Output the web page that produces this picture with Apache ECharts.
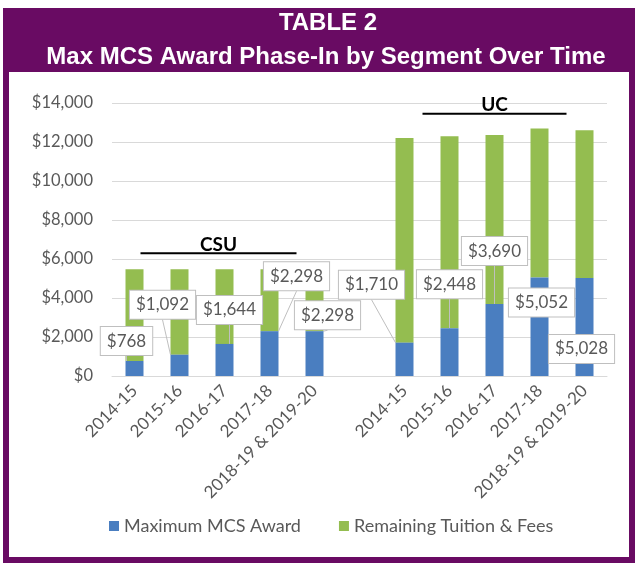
<!DOCTYPE html>
<html>
<head>
<meta charset="utf-8">
<script src="https://cdn.jsdelivr.net/npm/echarts@6/dist/echarts.min.js"></script>
<style>
  html, body { margin: 0; padding: 0; background: #ffffff; }
  #chart { width: 638px; height: 563px; }
</style>
</head>
<body>
<div id="chart"></div>
<script>
// ---- Data ----
var categories = ['2014-15', '2015-16', '2016-17', '2017-18', '2018-19 & 2019-20', '',
                  '2014-15', '2015-16', '2016-17', '2017-18', '2018-19 & 2019-20'];
var maxAward   = [768, 1092, 1644, 2298, 2298, null, 1710, 2448, 3690, 5052, 5028];
var remaining  = [4704, 4380, 3828, 3174, 3174, null, 10490, 9846, 8670, 7638, 7572];
var seriesNames = ['Maximum MCS Award', 'Remaining Tuition & Fees'];
var yTicks = [0, 2000, 4000, 6000, 8000, 10000, 12000, 14000];
var segmentNames = ['CSU', 'UC'];
var segmentFirst = [0, 6];
var segmentLast  = [4, 10];
var segmentLevel = [6300, 13450];
var titleLines = ['TABLE 2', 'Max MCS Award Phase-In by Segment Over Time'];

// ---- Styling (label offsets relative to the bar top) ----
var labelDx = [-8, -17, 5, 27, 13, 0, -33, 0, 0, 2, -3];
var labelDy = [-20, -50, -34, -55, -16, 0, -58, -44, -53, 25, 71];
var segInsetL = [6, 18];
var segInsetR = [-18, -18];

var purple = '#690b63';
var blue = '#4a7ec0';
var green = '#94bd50';
var gray = '#595959';
var font = 'Lato, "Open Sans", sans-serif';

function money(v) {
  return '$' + Number(v).toLocaleString('en-US');
}

var chart = echarts.init(document.getElementById('chart'));

var option = {
  animation: false,
  backgroundColor: '#ffffff',
  textStyle: { fontFamily: font },
  grid: { left: 112, right: 31, top: 103, bottom: 187, containLabel: false },
  legend: {
    bottom: 23,
    left: 104,
    itemWidth: 10,
    itemHeight: 10,
    itemGap: 38,
    icon: 'rect',
    textStyle: { color: gray, fontSize: 18, fontFamily: font },
    data: seriesNames
  },
  xAxis: {
    type: 'category',
    data: categories,
    axisLine: { lineStyle: { color: '#d9d9d9' } },
    axisTick: { show: false },
    axisLabel: { rotate: 45, color: gray, fontSize: 17, margin: 12, interval: 0, fontFamily: font }
  },
  yAxis: {
    type: 'value',
    min: yTicks[0],
    max: yTicks[yTicks.length - 1],
    interval: yTicks[1] - yTicks[0],
    axisLine: { show: false },
    axisTick: { show: false },
    splitLine: { lineStyle: { color: '#d9d9d9' } },
    axisLabel: { color: gray, fontSize: 16.5, margin: 19, formatter: money, fontFamily: font }
  },
  series: [
    {
      name: seriesNames[0],
      type: 'bar',
      stack: 'total',
      barWidth: 18,
      itemStyle: { color: blue },
      data: maxAward,
      z: 3,
      label: {
        show: true,
        position: 'top',
        formatter: function (p) { return money(p.value); },
        color: gray,
        fontSize: 17,
        fontFamily: font,
        backgroundColor: '#ffffff',
        borderColor: '#bfbfbf',
        borderWidth: 1,
        padding: [6, 6, 5, 6]
      },
      labelLine: { show: true, lineStyle: { color: '#bfbfbf', width: 1 } },
      labelLayout: function (p) {
        var r = p.rect;
        return {
          x: r.x + r.width / 2 + labelDx[p.dataIndex],
          y: r.y + labelDy[p.dataIndex],
          align: 'center',
          verticalAlign: 'middle',
          hideOverlap: false
        };
      }
    },
    {
      name: seriesNames[1],
      type: 'bar',
      stack: 'total',
      barWidth: 18,
      itemStyle: { color: green },
      data: remaining,
      z: 2
    }
  ]
};

chart.setOption(option);

// ---- Graphics: frame, title, segment annotations ----
var W = 638, H = 563;
var graphics = [
  { type: 'rect', z: -10, shape: { x: 3, y: 8, width: W - 6, height: H - 8 }, style: { fill: purple } },
  { type: 'rect', z: -9, shape: { x: 9, y: 72, width: W - 18, height: H - 72 - 6 }, style: { fill: '#ffffff' } },
  { type: 'text', z: 10, style: { text: titleLines[0], x: 328, y: 23, align: 'center', verticalAlign: 'middle',
      fill: '#ffffff', font: 'bold 24px "Liberation Sans", Arial, sans-serif' } },
  { type: 'text', z: 10, style: { text: titleLines[1], x: 326, y: 57, align: 'center', verticalAlign: 'middle',
      fill: '#ffffff', font: 'bold 24px "Liberation Sans", Arial, sans-serif' } }
];

for (var i = 0; i < segmentNames.length; i++) {
  var p1 = chart.convertToPixel({ gridIndex: 0 }, [segmentFirst[i], segmentLevel[i]]);
  var p2 = chart.convertToPixel({ gridIndex: 0 }, [segmentLast[i], segmentLevel[i]]);
  var x1 = p1[0] + segInsetL[i], x2 = p2[0] + segInsetR[i], y = p1[1];
  graphics.push({ type: 'line', z: 10, shape: { x1: x1, y1: y, x2: x2, y2: y },
    style: { stroke: '#000000', lineWidth: 2 } });
  graphics.push({ type: 'text', z: 10, style: { text: segmentNames[i], x: (x1 + x2) / 2, y: y + 1,
    align: 'center', verticalAlign: 'bottom', fill: '#000000', font: 'bold 19px ' + font } });
}

chart.setOption({ graphic: graphics });
</script>
</body>
</html>
